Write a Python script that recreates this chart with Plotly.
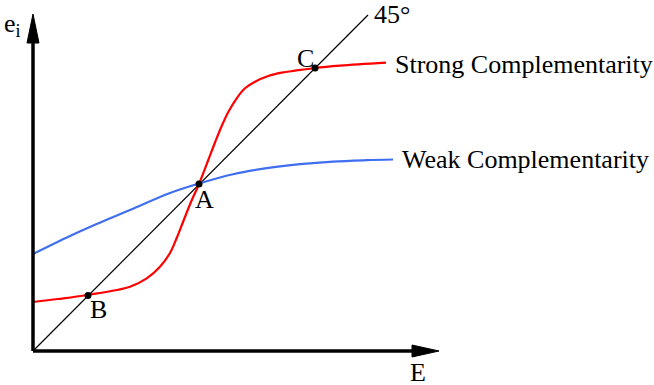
import plotly.graph_objects as go

# Data (arbitrary units, origin at the axes corner)
strong_x = [0, 25, 54, 97, 113.7, 127, 137, 143.7, 150, 158, 166, 175.3, 182, 188.7, 195.3, 203.7, 212, 222, 235.3, 248.7, 262, 282, 307, 353]
strong_y = [49, 52, 56, 64.3, 72.7, 84.3, 98, 113, 129, 149, 167, 191, 208.5, 225, 239, 252.7, 262.7, 269.3, 275, 278.3, 280.3, 283, 285.3, 288.3]

weak_x = [0, 37, 63.7, 97, 137, 166, 200, 233.7, 267, 300, 333.7, 360]
weak_y = [97, 115, 127, 141, 158, 167.5, 176.8, 182.8, 186.8, 189.4, 190.8, 191.5]

diag_x = [0, 335]
diag_y = [0, 336]

pt_names = ["B", "A", "C"]
pt_x = [55, 166, 282]
pt_y = [55.5, 167, 283]

font = dict(family="Liberation Serif, Times New Roman, serif", size=26, color="black")

fig = go.Figure()
fig.add_trace(go.Scatter(x=diag_x, y=diag_y, mode="lines",
                         line=dict(color="black", width=1.2), hoverinfo="skip"))
fig.add_trace(go.Scatter(x=weak_x, y=weak_y, mode="lines",
                         line=dict(color="#3f6ff0", width=2.2, shape="spline", smoothing=1.0)))
fig.add_trace(go.Scatter(x=strong_x, y=strong_y, mode="lines",
                         line=dict(color="#ff0000", width=2.2, shape="spline", smoothing=1.0)))
fig.add_trace(go.Scatter(x=pt_x, y=pt_y, mode="markers",
                         marker=dict(color="black", size=7)))

# Axes with arrowheads
fig.add_shape(type="line", x0=0, y0=0, x1=0, y1=312, line=dict(color="black", width=3.5))
fig.add_shape(type="line", x0=0, y0=0, x1=382, y1=0, line=dict(color="black", width=3.5))
fig.add_shape(type="path", path="M -6 308 L 6 308 L 0 337 Z",
              fillcolor="black", line=dict(color="black", width=1))
fig.add_shape(type="path", path="M 379 6 L 379 -6 L 406 0 Z",
              fillcolor="black", line=dict(color="black", width=1))

ann = [
    dict(x=-21, y=326, text="e<sub>i</sub>", xanchor="center", yanchor="middle"),
    dict(x=385, y=-21, text="E", xanchor="center", yanchor="middle"),
    dict(x=339, y=337, text="45°", xanchor="left", yanchor="middle"),
    dict(x=360, y=287, text="Strong Complementarity", xanchor="left", yanchor="middle"),
    dict(x=367, y=192, text="Weak Complementarity", xanchor="left", yanchor="middle"),
    dict(x=pt_x[0] + 10, y=pt_y[0] - 14, text=pt_names[0], xanchor="center", yanchor="middle"),
    dict(x=pt_x[1] + 5, y=pt_y[1] - 15, text=pt_names[1], xanchor="center", yanchor="middle"),
    dict(x=pt_x[2] - 10, y=pt_y[2] + 10, text=pt_names[2], xanchor="center", yanchor="middle"),
]
for a in ann:
    fig.add_annotation(showarrow=False, font=font, **a)

fig.update_layout(
    width=654, height=385,
    margin=dict(l=0, r=0, t=0, b=0),
    paper_bgcolor="white", plot_bgcolor="white",
    showlegend=False,
    xaxis=dict(range=[-33, 621], visible=False, fixedrange=True),
    yaxis=dict(range=[-34, 351], visible=False, fixedrange=True),
)
fig.write_html("out.html",
               config={"displayModeBar": False, "staticPlot": True},
               post_script="document.body.style.margin='0';document.body.style.overflow='hidden';")
